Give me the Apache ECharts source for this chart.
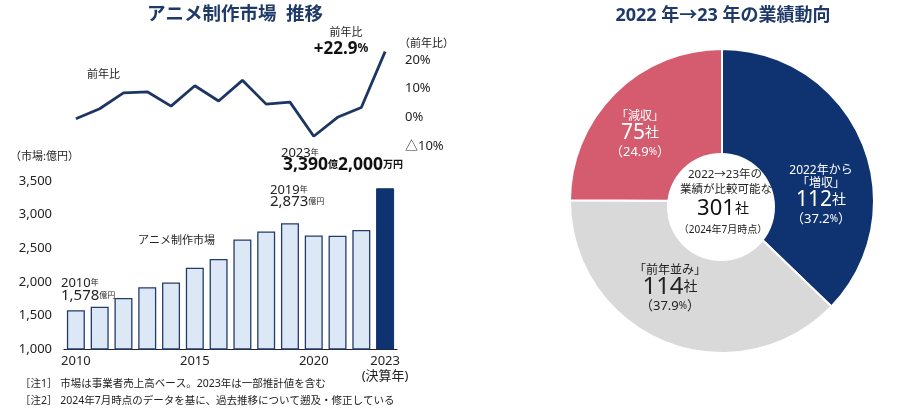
<!DOCTYPE html>
<html><head><meta charset="utf-8">
<script src="https://cdn.jsdelivr.net/npm/echarts@6/dist/echarts.min.js"></script>
<style>html,body{margin:0;padding:0;background:#fff}#c{width:909px;height:412px}</style>
</head><body><div id="c"></div>
<script>
const years = ['2010','2011','2012','2013','2014','2015','2016','2017','2018','2019','2020','2021','2022','2023'];
const marketValues = [1578,1630,1760,1920,1990,2210,2340,2630,2750,2873,2690,2685,2770,3392];
const yoyValues = [-0.5,3.0,8.5,8.9,3.9,11.0,5.7,12.9,4.6,5.3,-6.6,0.0,3.4,22.9];
const shownYears = ['2010','2015','2020','2023'];
const marketTicks = [1000,1500,2000,2500,3000,3500];
const yoyTicks = [-10,0,10,20];
const pieNames = ['増収','前年並み','減収'];
const pieCounts = [112,114,75];
const piePct = [37.2,37.9,24.9];
const totalCompanies = 301;

const FONT = '"Noto Sans", "Noto Sans CJK JP", sans-serif';
const NAVY = '#0f3371';
const TXT = '#222';
const pieColors = ['#0f3371','#d9d9d9','#d45c6e'];
const pieTextColors = ['#fff','#222','#fff'];
const labelPos = [[821,164.5],[670,264.5],[640,110.5]];

const chart = echarts.init(document.getElementById('c'), null, {renderer:'canvas'});

function fmtNum(v){return v.toLocaleString('en-US');}

const option = {
  animation:false,
  textStyle:{fontFamily:FONT},
  grid:[
    {left:64, width:333, top:181, bottom:63},
    {left:64, width:333, top:31.3, bottom:266}
  ],
  xAxis:[
    {type:'category', gridIndex:0, data:years, boundaryGap:true,
     axisLine:{lineStyle:{color:'#222', width:1.2}}, axisTick:{show:false},
     axisLabel:{interval:0, color:TXT, fontSize:13, margin:5, lineHeight:15,
       formatter:function(v){ if(shownYears.indexOf(v)<0) return ''; return v==='2023' ? '2023\n(決算年)' : v; }}},
    {type:'category', gridIndex:1, data:years, boundaryGap:true, show:false}
  ],
  yAxis:[
    {type:'value', gridIndex:0, min:marketTicks[0], max:marketTicks[marketTicks.length-1], interval:500,
     axisLine:{show:false}, axisTick:{show:false}, splitLine:{show:false},
     axisLabel:{color:TXT, fontSize:13, margin:12, formatter:function(v){return fmtNum(v);}}},
    {type:'value', gridIndex:1, position:'right', min:-10, max:30, interval:10,
     axisLine:{show:false}, axisTick:{show:false}, splitLine:{show:false},
     axisLabel:{color:TXT, fontSize:13, margin:8, align:'left',
       formatter:function(v){ if(yoyTicks.indexOf(v)<0) return ''; return v<0 ? '△'+(-v)+'%' : v+'%'; }}}
  ],
  series:[
    {type:'bar', xAxisIndex:0, yAxisIndex:0, barWidth:18,
     data:marketValues.map(function(v,i){
       return {value:v, itemStyle: i===marketValues.length-1 ? {color:NAVY, borderColor:NAVY, borderWidth:1} : {color:'#dde8f6', borderColor:'#243c68', borderWidth:1.3}};
     })},
    {type:'line', xAxisIndex:1, yAxisIndex:1, data:yoyValues, symbol:'none',
     lineStyle:{color:'#1c3562', width:2.8}},
    {type:'pie', center:[722,201], radius:[0,152], startAngle:90, clockwise:true,
     itemStyle:{borderColor:'#fff', borderWidth:2},
     data:pieNames.map(function(n,i){return {name:n, value:pieCounts[i], itemStyle:{color:pieColors[i]}};}),
     label:{show:true, position:'inside',
       formatter:function(p){
         const i=p.dataIndex;
         const pre = i===0 ? '{a|2022年から}\n' : '';
         return pre + '{a|「'+pieNames[i]+'」}\n{b'+i+'|'+pieCounts[i]+'}{u|社}\n{c|（'+piePct[i].toFixed(1)+'}{p|%}{c|）}';
       },
       rich:{
         a:{fontSize:12, lineHeight:13},
         b0:{fontSize:21, lineHeight:20},
         b1:{fontSize:24, lineHeight:20},
         b2:{fontSize:21, lineHeight:20},
         u:{fontSize:14, lineHeight:20},
         c:{fontSize:13, lineHeight:18},
         p:{fontSize:10, lineHeight:18}
       }},
     labelLayout:function(p){
       const pos=labelPos[p.dataIndex];
       return {x:pos[0], y:pos[1], align:'center', verticalAlign:'top'};
     },
     labelLine:{show:false}, silent:true}
  ],
  graphic:[]
};

option.series[2].data.forEach(function(d,i){ d.label={color:pieTextColors[i], rich:{
  a:{color:pieTextColors[i]}, ['b'+i]:{color:pieTextColors[i]}, u:{color:pieTextColors[i]}, c:{color:pieTextColors[i]}, p:{color:pieTextColors[i]}}}; });

function txt(x,y,text,size,opts){
  opts=opts||{};
  return {type:'text', x:x, y:y, z:100, style:Object.assign({text:text, fill:opts.fill||TXT, font:(opts.weight||'normal')+' '+size+'px '+FONT,
    textAlign:opts.align||'left', textVerticalAlign:'middle'}, opts.rich?{rich:opts.rich}:{})};
}
function rt(x,y,parts,align){
  const rich={}; let s='';
  parts.forEach(function(p,k){ rich['r'+k]={fontSize:p[1], fontWeight:p[2]||'normal', fill:p[3]||TXT, fontFamily:FONT}; s+='{r'+k+'|'+p[0]+'}'; });
  return {type:'text', x:x, y:y, z:100, style:{text:s, rich:rich, textAlign:align||'left', textVerticalAlign:'middle'}};
}

const lastYoy = yoyValues[yoyValues.length-1];
option.graphic = [
  txt(235,15,'アニメ制作市場  推移',18.5,{weight:'bold', fill:'#1f3a68', align:'center'}),
  txt(723,16,'2022 年→23 年の業績動向',18,{weight:'bold', fill:'#1f3a68', align:'center'}),
  txt(87,75,'前年比',11),
  txt(346,33,'前年比',11,{align:'center'}),
  rt(341,49,[['+'+lastYoy.toFixed(1),17,'bold','#111'],['%',12,'bold','#111']],'center'),
  txt(399,44,'（前年比）',11),
  txt(10,157,'（市場:億円）',11),
  rt(281,153,[['2023',13],['年',8]]),
  rt(283,165,[['3,390',17.5,'bold','#111'],['億',10,'bold','#111'],['2,000',17.5,'bold','#111'],['万円',10,'bold','#111']]),
  rt(270,190,[[years[9],13],['年',8]]),
  rt(270,202,[[fmtNum(marketValues[9]),15],['億円',8]]),
  txt(138,241,'アニメ制作市場',11),
  rt(61,283,[[years[0],13],['年',8]]),
  rt(61,296,[[fmtNum(marketValues[0]),15],['億円',8]]),
  txt(20,384,'［注1］ 市場は事業者売上高ベース。2023年は一部推計値を含む',10.5),
  txt(20,401,'［注2］ 2024年7月時点のデータを基に、過去推移について遡及・修正している',10.5),
  {type:'circle', z:50, shape:{cx:721, cy:207, r:54}, style:{fill:'#fff'}},
  txt(725,175,'2022→23年の',11.5,{align:'center'}),
  txt(726,190,'業績が比較可能な',11.5,{align:'center'}),
  rt(723,209,[[String(totalCompanies),22,'normal','#111'],['社',14,'normal','#111']],'center'),
  txt(723,230,'（2024年7月時点）',10,{align:'center'})
];

chart.setOption(option);
</script></body></html>
